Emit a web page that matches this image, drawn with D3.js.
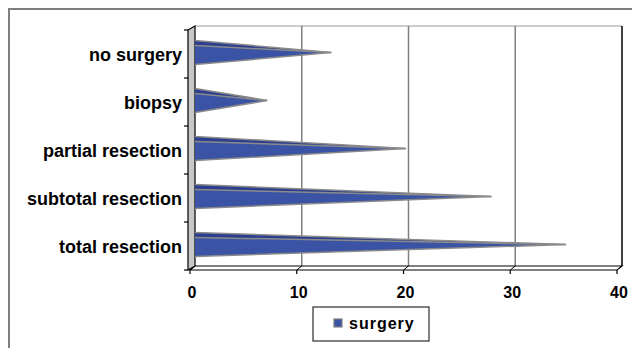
<!DOCTYPE html>
<html>
<head>
<meta charset="utf-8">
<script src="https://cdn.jsdelivr.net/npm/d3@7"></script>
<style>
  html, body { margin: 0; padding: 0; background: #fff; }
  svg { display: block; font-family: Arial, "Liberation Sans", sans-serif; }
</style>
</head>
<body>
<svg id="chart" width="632" height="348"></svg>
<script>
// Surgery type counts, shown as horizontal 3D cones
const categories = ["total resection", "subtotal resection", "partial resection", "biopsy", "no surgery"];
const surgeryValues = [35, 28, 20, 7, 13];
const xTicks = [0, 10, 20, 30, 40];
const seriesName = "surgery";

const svg = d3.select("#chart");

// chart area frame (only top and left edges fall inside the window)
svg.append("rect")
  .attr("x", 9).attr("y", 9).attr("width", 640).attr("height", 360)
  .attr("fill", "none").attr("stroke", "#7f7f7f").attr("stroke-width", 2);

// 3D depth offset between the front plane and the back wall
const dx = 5, dy = -4;
const xFront = d3.scaleLinear().domain([0, 40]).range([190, 617]);
const xBack = d3.scaleLinear().domain([0, 40]).range([190 + dx, 617 + dx]);
const xMid = d3.scaleLinear().domain([0, 40]).range([190 + dx / 2, 617 + dx / 2]);

const yFront = d3.scaleBand().domain(categories.slice().reverse()).range([30, 270]);
const floorY = 270, topY = 30;

// back wall border and gridlines
svg.append("line")
  .attr("x1", xBack(0)).attr("x2", xBack(40))
  .attr("y1", topY + dy).attr("y2", topY + dy)
  .attr("stroke", "#9a9a9a").attr("stroke-width", 1);
svg.append("line")
  .attr("x1", xBack(40)).attr("x2", xBack(40))
  .attr("y1", topY + dy).attr("y2", floorY + dy)
  .attr("stroke", "#000").attr("stroke-width", 1.5);
svg.selectAll("line.grid")
  .data(xTicks.filter(t => t > 0 && t < 40))
  .join("line").attr("class", "grid")
  .attr("x1", d => xBack(d)).attr("x2", d => xBack(d))
  .attr("y1", topY + dy).attr("y2", floorY + dy)
  .attr("stroke", "#808080").attr("stroke-width", 1.5);

// floor
svg.append("path")
  .attr("d", `M${xFront(0)},${floorY} L${xFront(40)},${floorY} L${xBack(40)},${floorY + dy} L${xBack(0)},${floorY + dy} Z`)
  .attr("fill", "#fff").attr("stroke", "#000").attr("stroke-width", 1.2);
svg.selectAll("line.floorgrid")
  .data(xTicks.filter(t => t > 0 && t < 40))
  .join("line").attr("class", "floorgrid")
  .attr("x1", d => xFront(d)).attr("x2", d => xBack(d))
  .attr("y1", floorY).attr("y2", floorY + dy)
  .attr("stroke", "#000").attr("stroke-width", 1);

// left side wall
svg.append("path")
  .attr("d", `M${xFront(0) - 2},${topY} L${xBack(0)},${topY + dy} L${xBack(0)},${floorY + dy} L${xFront(0) - 2},${floorY} Z`)
  .attr("fill", "#c8c8c8").attr("stroke", "#000").attr("stroke-width", 1.2);

// category axis ticks
const yTickPos = categories.map(c => yFront(c)).concat([floorY]);
svg.selectAll("line.ytick")
  .data(yTickPos)
  .join("line").attr("class", "ytick")
  .attr("x1", xFront(0) - 6).attr("x2", xFront(0) - 2)
  .attr("y1", d => d).attr("y2", d => d)
  .attr("stroke", "#000").attr("stroke-width", 1.2);

// value axis ticks along the front edge of the floor
svg.selectAll("line.xtick")
  .data(xTicks)
  .join("line").attr("class", "xtick")
  .attr("x1", d => xFront(d)).attr("x2", d => xFront(d))
  .attr("y1", floorY).attr("y2", floorY + 4)
  .attr("stroke", "#000").attr("stroke-width", 1.2);

// cones
const half = yFront.bandwidth() * 0.25;
const cones = svg.selectAll("g.cone")
  .data(categories.map((c, i) => ({ c, v: surgeryValues[i] })))
  .join("g").attr("class", "cone");

cones.each(function (d) {
  const g = d3.select(this);
  const cy = yFront(d.c) + yFront.bandwidth() / 2 - 1.5;
  const x0 = xBack(0);
  const tip = xMid(d.v);
  // back sliver of the cone
  g.append("path")
    .attr("d", `M${x0},${cy - half} L${tip},${cy} L${x0},${cy - half + 5} Z`)
    .attr("fill", "#2c3f8f");
  // front face of the cone
  g.append("path")
    .attr("d", `M${x0},${cy - half + 5} L${tip},${cy} L${x0},${cy + half} Z`)
    .attr("fill", "#3a53a4");
  // edge highlights
  g.append("path")
    .attr("d", `M${x0},${cy - half} L${tip},${cy} L${x0},${cy + half}`)
    .attr("fill", "none").attr("stroke", "#8a8a8a").attr("stroke-width", 1.5);
  g.append("line")
    .attr("x1", x0).attr("y1", cy - half + 5).attr("x2", tip).attr("y2", cy)
    .attr("stroke", "#8a8a8a").attr("stroke-width", 1.5);
});

// category labels
svg.selectAll("text.cat")
  .data(categories)
  .join("text").attr("class", "cat")
  .attr("x", 182)
  .attr("y", d => yFront(d) + yFront.bandwidth() / 2 + 2)
  .attr("text-anchor", "end").attr("dominant-baseline", "middle")
  .attr("font-size", 18).attr("font-weight", "bold").attr("fill", "#000")
  .text(d => d);

// value axis labels
svg.selectAll("text.xl")
  .data(xTicks)
  .join("text").attr("class", "xl")
  .attr("x", d => xFront(d) + 2)
  .attr("y", 298)
  .attr("text-anchor", "middle")
  .attr("font-size", 16).attr("font-weight", "bold").attr("fill", "#000")
  .text(d => d);

// legend
const lg = svg.append("g").attr("transform", "translate(313,307)");
lg.append("rect").attr("width", 116).attr("height", 34)
  .attr("fill", "#fff").attr("stroke", "#000").attr("stroke-width", 1);
lg.append("rect").attr("x", 21).attr("y", 12).attr("width", 8).attr("height", 8)
  .attr("fill", "#3a53a4").attr("stroke", "#808080").attr("stroke-width", 1.2);
lg.append("text").attr("x", 36).attr("y", 22)
  .attr("font-size", 16).attr("font-weight", "bold").attr("letter-spacing", 1)
  .attr("fill", "#000").text(seriesName);
</script>
</body>
</html>
